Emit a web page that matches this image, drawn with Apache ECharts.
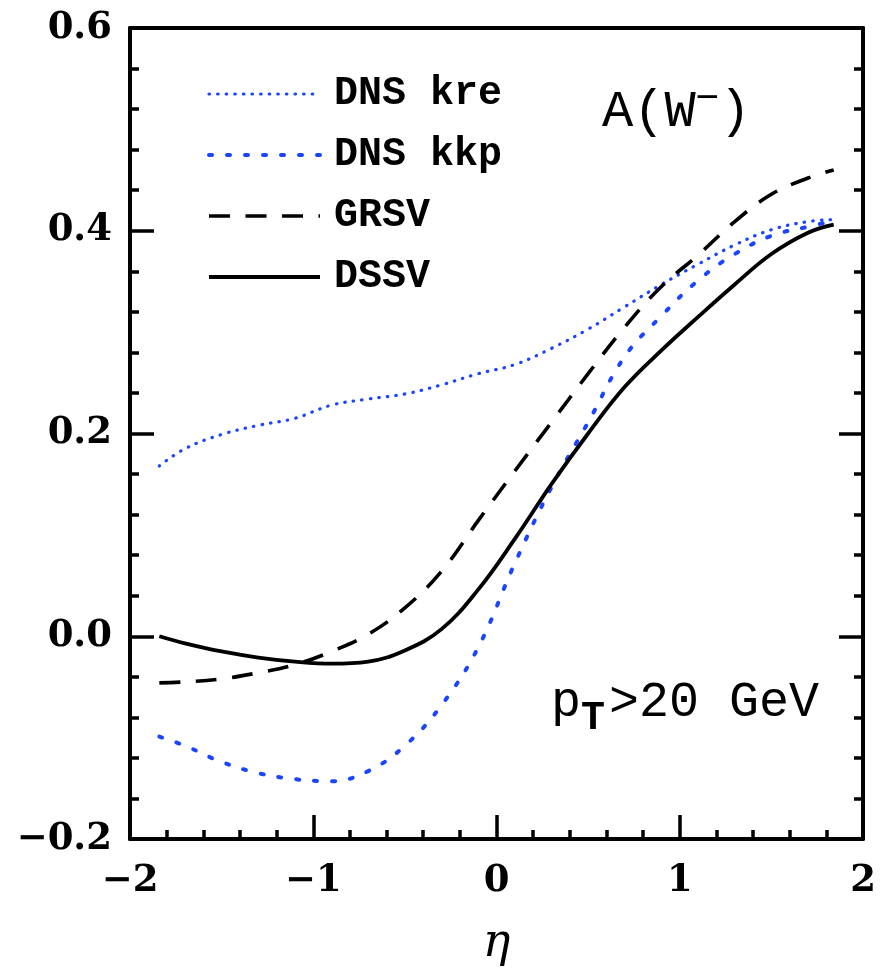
<!DOCTYPE html>
<html>
<head>
<meta charset="utf-8">
<script src="https://cdn.jsdelivr.net/npm/echarts@6/dist/echarts.min.js"></script>
<style>
html,body{margin:0;padding:0;background:#fff;}
#chart{width:880px;height:977px;}
</style>
</head>
<body>
<div id="chart"></div>
<script>
// pseudorapidity grid
var eta = [-1.84,-1.7,-1.5,-1.3,-1.1,-0.9,-0.7,-0.5,-0.3,-0.1,0.1,0.3,0.5,0.7,0.9,1.1,1.3,1.5,1.7,1.84];
// A(W-) asymmetry curves
var dnsKre = [0.168,0.185,0.199,0.208,0.215,0.228,0.234,0.239,0.248,0.259,0.268,0.284,0.303,0.325,0.347,0.367,0.386,0.401,0.409,0.411];
var dnsKkp = [-0.099,-0.108,-0.124,-0.135,-0.141,-0.143,-0.133,-0.108,-0.068,-0.011,0.072,0.147,0.211,0.276,0.316,0.351,0.377,0.395,0.404,0.410];
var grsv   = [-0.046,-0.045,-0.042,-0.036,-0.028,-0.015,0.002,0.028,0.064,0.114,0.163,0.211,0.259,0.305,0.345,0.376,0.409,0.436,0.452,0.460];
var dssv   = [0.000,-0.007,-0.015,-0.021,-0.025,-0.027,-0.025,-0.014,0.007,0.046,0.096,0.150,0.200,0.246,0.282,0.315,0.347,0.377,0.398,0.406];
var seriesNames = ['DNS kre','DNS kkp','GRSV','DSSV'];
var xTicks = [-2,-1,0,1,2];
var yTicks = [-0.2,0,0.2,0.4,0.6];

function pairs(ys){ return eta.map(function(x,i){ return [x, ys[i]]; }); }
function minus(s){ return String(s).replace('-', '\u2212'); }

var BLUE = '#1a44ff';
var AX = {color:'#000', width:4};
var styles = [
  {color:BLUE, width:3.2, type:[0.5,8.1], cap:'round'},
  {color:BLUE, width:4, type:[3,15], cap:'round'},
  {color:'#000', width:3.6, type:[21,15.5], cap:'butt'},
  {color:'#000', width:3.8, type:'solid', cap:'butt'}
];
var seriesData = [dnsKre, dnsKkp, grsv, dssv];

var chart = echarts.init(document.getElementById('chart'), null, {renderer:'canvas'});
var tickFont = {color:'#000', fontFamily:'"DejaVu Serif"', fontWeight:'bold', fontSize:37};

chart.setOption({
  animation:false,
  backgroundColor:'#fff',
  grid:{left:130, right:17, top:28, bottom:138},
  legend:{
    orient:'vertical', left:202, top:69,
    itemWidth:111, itemHeight:40, itemGap:21,
    selectedMode:false,
    itemStyle:{opacity:0},
    data:seriesNames.map(function(n,i){ return {name:n, lineStyle:styles[i], itemStyle:{opacity:0}}; }),
    textStyle:{color:'#000', fontFamily:'"Liberation Mono"', fontWeight:'bold', fontSize:40, lineHeight:40, padding:[0,0,0,9]}
  },
  xAxis:[{
    type:'value', position:'bottom', min:xTicks[0], max:xTicks[xTicks.length-1], interval:1,
    axisLine:{show:true, onZero:false, lineStyle:AX},
    axisTick:{show:true, inside:true, length:24, lineStyle:{color:'#000', width:3.5}},
    minorTick:{show:true, splitNumber:5, length:9, lineStyle:{color:'#000', width:3.5}},
    splitLine:{show:false},
    axisLabel:Object.assign({margin:24, formatter:function(v){return minus(v);}}, tickFont),
    name:'\u03b7', nameLocation:'middle', nameGap:82,
    nameTextStyle:{color:'#000', fontFamily:'"DejaVu Serif"', fontStyle:'italic', fontSize:46}
  },{
    type:'value', position:'top', min:-2, max:2, interval:1,
    axisLine:{show:true, onZero:false, lineStyle:AX},
    axisTick:{show:false}, axisLabel:{show:false}, splitLine:{show:false}
  }],
  yAxis:[{
    type:'value', position:'left', min:yTicks[0], max:yTicks[yTicks.length-1], interval:0.2,
    axisLine:{show:true, onZero:false, lineStyle:AX},
    axisTick:{show:true, inside:true, length:24, lineStyle:{color:'#000', width:3.5}},
    minorTick:{show:true, splitNumber:5, length:9, lineStyle:{color:'#000', width:3.5}},
    splitLine:{show:false},
    axisLabel:Object.assign({margin:18, formatter:function(v){return minus(v.toFixed(1));}}, tickFont)
  },{
    type:'value', position:'right', min:-0.2, max:0.6, interval:0.2,
    axisLine:{show:true, onZero:false, lineStyle:AX},
    axisTick:{show:true, inside:true, length:24, lineStyle:{color:'#000', width:3.5}},
    minorTick:{show:true, splitNumber:5, length:9, lineStyle:{color:'#000', width:3.5}},
    splitLine:{show:false}, axisLabel:{show:false}
  }],
  series:seriesNames.map(function(n,i){
    return {name:n, type:'line', data:pairs(seriesData[i]), smooth:0.4,
      symbol:'none', color:styles[i].color, lineStyle:styles[i]};
  }),
  graphic:[
    {type:'text', left:602, top:79, silent:true,
     style:{text:'A(W{s|\u2212})', fill:'#000', font:'52px "Liberation Mono"', lineHeight:66,
       rich:{s:{fontSize:40, fontFamily:'"Liberation Mono"', fill:'#000', verticalAlign:'top', lineHeight:36}}}},
    {type:'text', left:551, top:667, silent:true,
     style:{text:'p{t|T}>20 GeV', fill:'#000', font:'50px "Liberation Mono"', lineHeight:48,
       rich:{t:{fontSize:40, fontWeight:'bold', fontFamily:'"Liberation Mono"', fill:'#000', verticalAlign:'bottom', lineHeight:72, padding:[0,4,0,0]}}}}
  ]
});
</script>
</body>
</html>
